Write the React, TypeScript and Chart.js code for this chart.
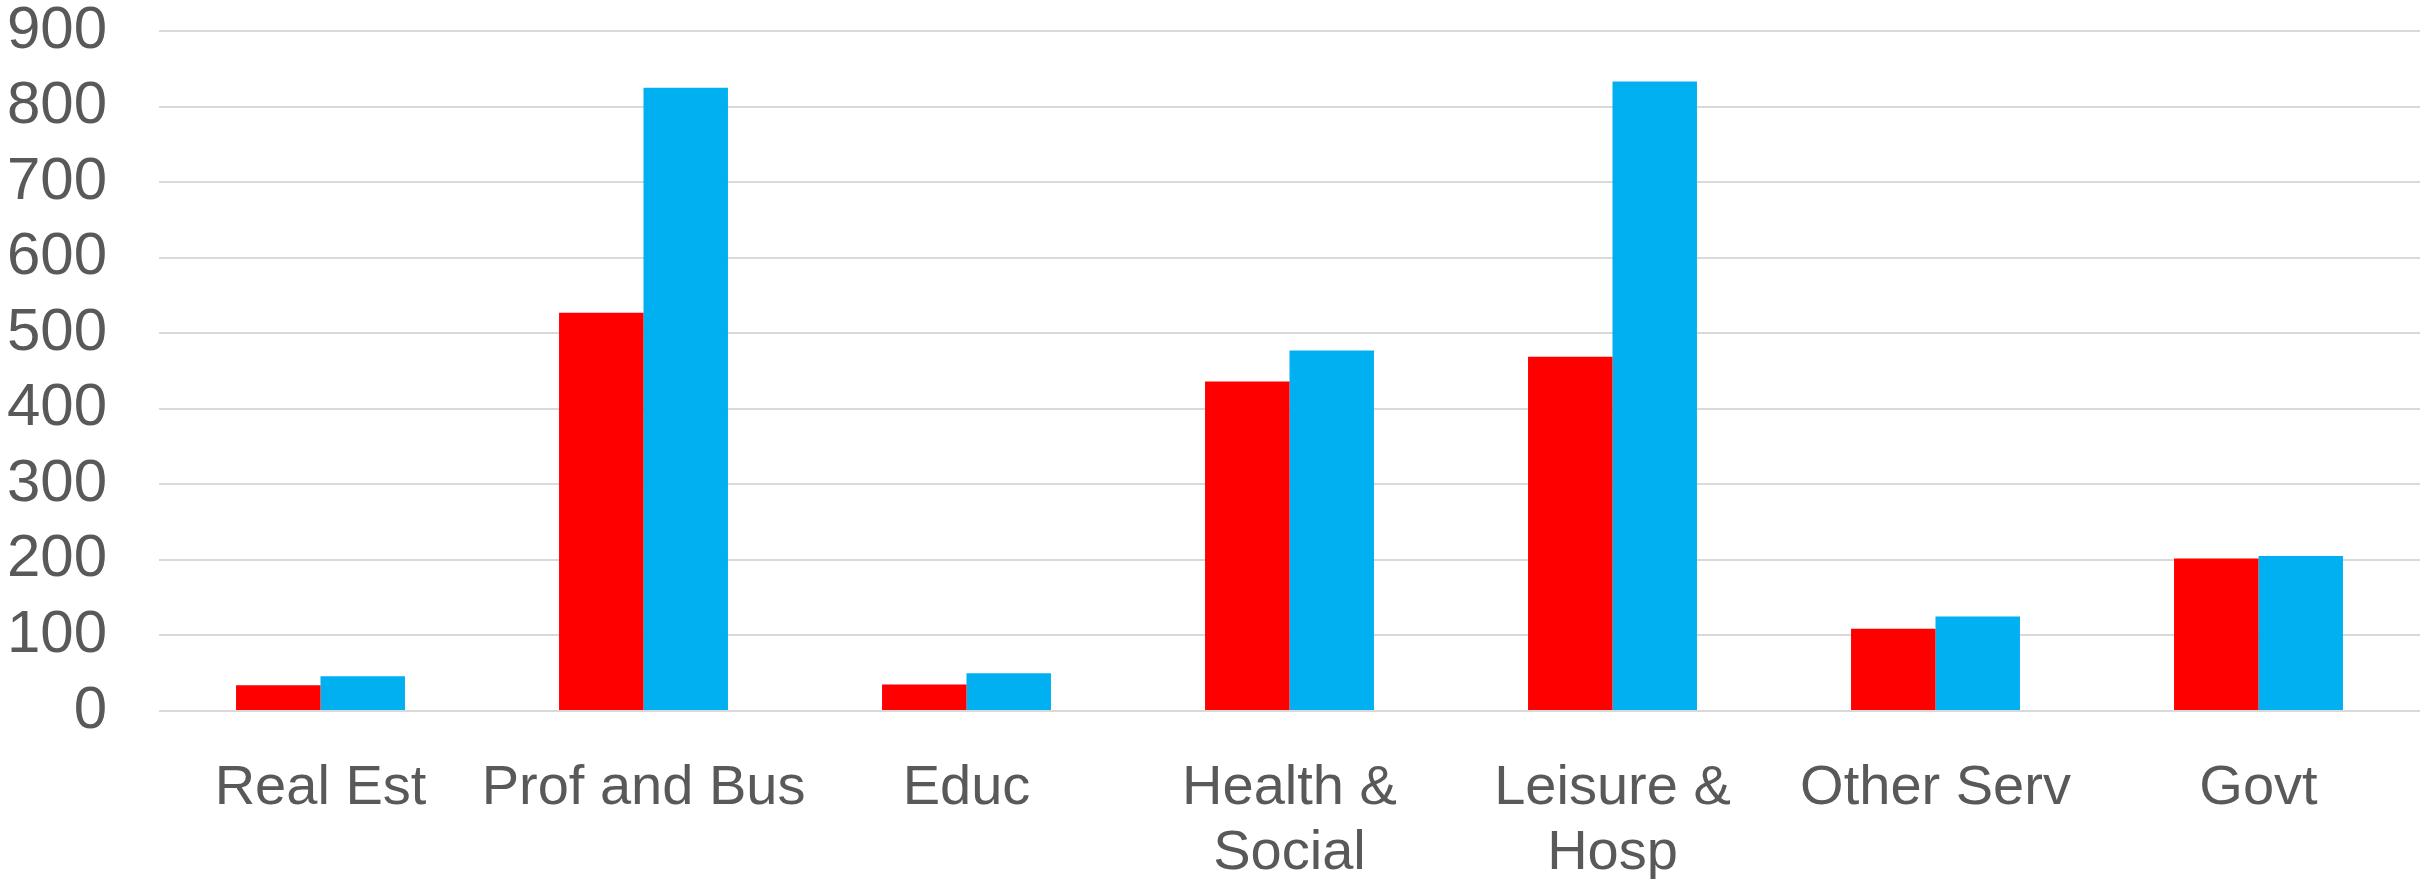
import React, { useEffect, useRef } from "react";
import { Chart, registerables } from "chart.js";

Chart.register(...registerables);

// Industry groups (multi-line where the label wraps)
const categories: (string | string[])[] = [
  "Real Est",
  "Prof and Bus",
  "Educ",
  ["Health &", "Social"],
  ["Leisure &", "Hosp"],
  "Other Serv",
  "Govt",
];

const seriesA = [34, 527, 35, 436, 469, 109, 202];
const seriesB = [46, 825, 50, 477, 833, 125, 205];

const yMin = 0;
const yMax = 900;
const yStep = 100;

const RED = "#ff0000";
const BLUE = "#00b0f0";
const TEXT = "#595959";
const GRID = "#d9d9d9";
const FONT = "'Liberation Sans', Arial, sans-serif";

export default function App() {
  const ref = useRef<HTMLCanvasElement | null>(null);

  useEffect(() => {
    if (!ref.current) return;
    const chart = new Chart(ref.current, {
      type: "bar",
      data: {
        labels: categories,
        datasets: [
          { label: "A", data: seriesA, backgroundColor: RED, borderWidth: 0 },
          { label: "B", data: seriesB, backgroundColor: BLUE, borderWidth: 0 },
        ],
      },
      options: {
        animation: false,
        responsive: false,
        maintainAspectRatio: false,
        layout: { padding: { left: 2, top: 31, right: 0, bottom: 0 } },
        plugins: { legend: { display: false }, tooltip: { enabled: false } },
        datasets: { bar: { barPercentage: 1, categoryPercentage: 0.523 } },
        scales: {
          x: {
            grid: { display: false, drawTicks: false },
            border: { display: false },
            afterFit: (scale: any) => {
              scale.height = 168;
              scale.paddingLeft = 0;
              scale.paddingRight = 0;
            },
            ticks: {
              color: TEXT,
              font: { family: FONT, size: 56, lineHeight: 1.16 },
              padding: 45,
              maxRotation: 0,
              autoSkip: false,
            },
          },
          y: {
            min: yMin,
            max: yMax,
            border: { display: false },
            grid: { color: GRID, lineWidth: 2, drawTicks: false },
            afterFit: (scale: any) => {
              // fixed axis width; the top/bottom label overhang is handled by layout padding
              scale.width = 157;
              scale.paddingTop = 0;
              scale.paddingBottom = 0;
            },
            ticks: {
              stepSize: yStep,
              autoSkip: false,
              color: TEXT,
              font: { family: FONT, size: 60, lineHeight: 1 },
              padding: 52,
            },
          },
        },
      },
    });
    return () => chart.destroy();
  }, []);

  return (
    <div style={{ position: "fixed", left: 0, top: 0, width: 2420, height: 879, background: "#fff" }}>
      <canvas ref={ref} width={2420} height={879} style={{ display: "block" }} />
    </div>
  );
}
